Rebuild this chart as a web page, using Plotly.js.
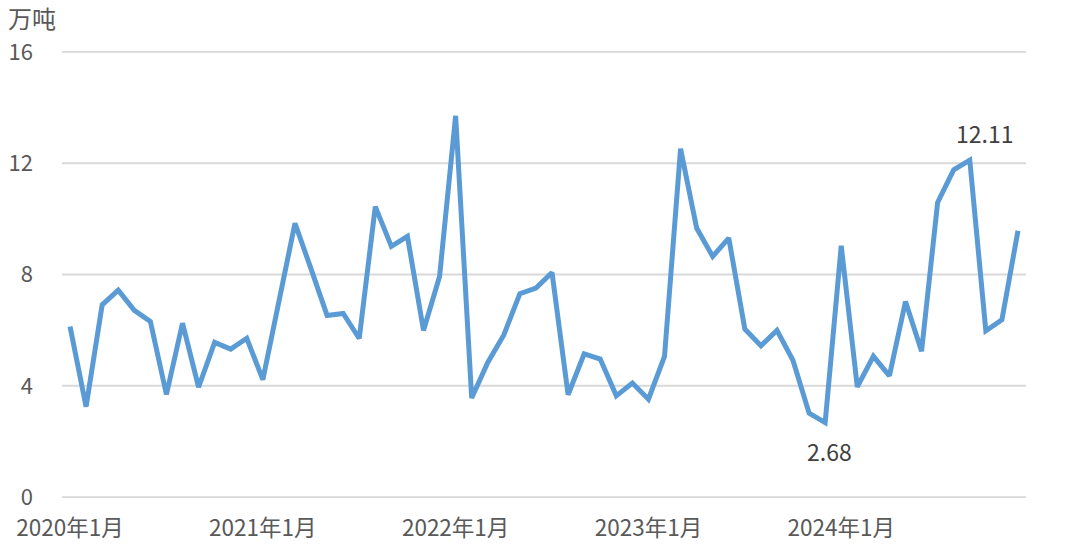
<!DOCTYPE html>
<html>
<head>
<meta charset="utf-8">
<script src="https://cdn.plot.ly/plotly-3.0.1.min.js"></script>
<style>
  html, body { margin: 0; padding: 0; background: #ffffff; }
  #chart { width: 1068px; height: 548px; }
</style>
</head>
<body>
<div id="chart"></div>
<script>
// ---- data ----
const years = [2020, 2021, 2022, 2023, 2024];
const months = [];
years.forEach(function (y) { for (let m = 1; m <= 12; m++) months.push(y + '年' + m + '月'); });

const volume = [
  6.13, 3.25, 6.91, 7.44, 6.71, 6.31, 3.69, 6.25, 3.95, 5.56, 5.32, 5.71,
  4.22, 7.03, 9.84, 8.20, 6.53, 6.60, 5.70, 10.44, 9.01, 9.37, 5.99, 7.93,
  13.70, 3.56, 4.84, 5.83, 7.31, 7.51, 8.07, 3.68, 5.15, 4.96, 3.64, 4.10,
  3.52, 5.06, 12.52, 9.67, 8.65, 9.31, 6.04, 5.44, 5.99, 4.91, 3.02, 2.68,
  9.03, 3.96, 5.06, 4.36, 7.03, 5.24, 10.59, 11.76, 12.11, 5.98, 6.37, 9.57
];

const xTickVals = ['2020年1月', '2021年1月', '2022年1月', '2023年1月', '2024年1月'];
const yTickVals = [0, 4, 8, 12, 16];

const maxLabel = { x: '2024年9月', y: 12.11, text: '12.11' };
const minLabel = { x: '2023年12月', y: 2.68, text: '2.68' };

const FONT = '"Noto Sans CJK SC", "Noto Sans", sans-serif';

const trace = {
  type: 'scatter',
  mode: 'lines',
  x: months,
  y: volume,
  line: { color: '#5B9BD5', width: 5, shape: 'linear' },
  hoverinfo: 'x+y'
};

// horizontal gridlines drawn as shapes so the 0 and 16 lines also appear
const gridShapes = yTickVals.map(function (v) {
  return {
    type: 'line', layer: 'below',
    xref: 'paper', x0: 0, x1: 1,
    yref: 'y', y0: v, y1: v,
    line: { color: '#D9D9D9', width: 2 }
  };
});

const layout = {
  width: 1068,
  height: 548,
  margin: { l: 62, r: 42, t: 51, b: 50 },
  paper_bgcolor: '#ffffff',
  plot_bgcolor: '#ffffff',
  showlegend: false,
  font: { family: FONT, color: '#595959', size: 22 },
  xaxis: {
    type: 'category',
    range: [-0.5, 59.5],
    tickmode: 'array',
    tickvals: xTickVals,
    ticktext: xTickVals,
    showgrid: false,
    zeroline: false,
    showline: false,
    ticks: '',
    ticklabelstandoff: 14,
    tickfont: { family: FONT, size: 22.5, color: '#595959' }
  },
  yaxis: {
    range: [-0.03, 16.03],
    tickmode: 'array',
    tickvals: yTickVals,
    ticktext: yTickVals.map(String),
    showgrid: false,
    zeroline: false,
    showline: false,
    ticks: '',
    ticklabelstandoff: 28,
    tickfont: { family: FONT, size: 22, color: '#595959' }
  },
  shapes: gridShapes,
  annotations: [
    {
      xref: 'paper', yref: 'paper', x: -0.057, y: 1.0, xanchor: 'left', yanchor: 'bottom',
      text: '万吨', showarrow: false, yshift: 15, borderpad: 0,
      font: { family: FONT, size: 24, color: '#595959' }
    },
    {
      x: maxLabel.x, y: maxLabel.y, text: maxLabel.text, showarrow: false,
      xanchor: 'center', yanchor: 'middle', xshift: 15, yshift: 27,
      font: { family: FONT, size: 23, color: '#404040' }
    },
    {
      x: minLabel.x, y: minLabel.y, text: minLabel.text, showarrow: false,
      xanchor: 'center', yanchor: 'middle', xshift: 4, yshift: -28,
      font: { family: FONT, size: 23, color: '#404040' }
    }
  ]
};

Plotly.newPlot('chart', [trace], layout, { displayModeBar: false, staticPlot: true });
</script>
</body>
</html>
